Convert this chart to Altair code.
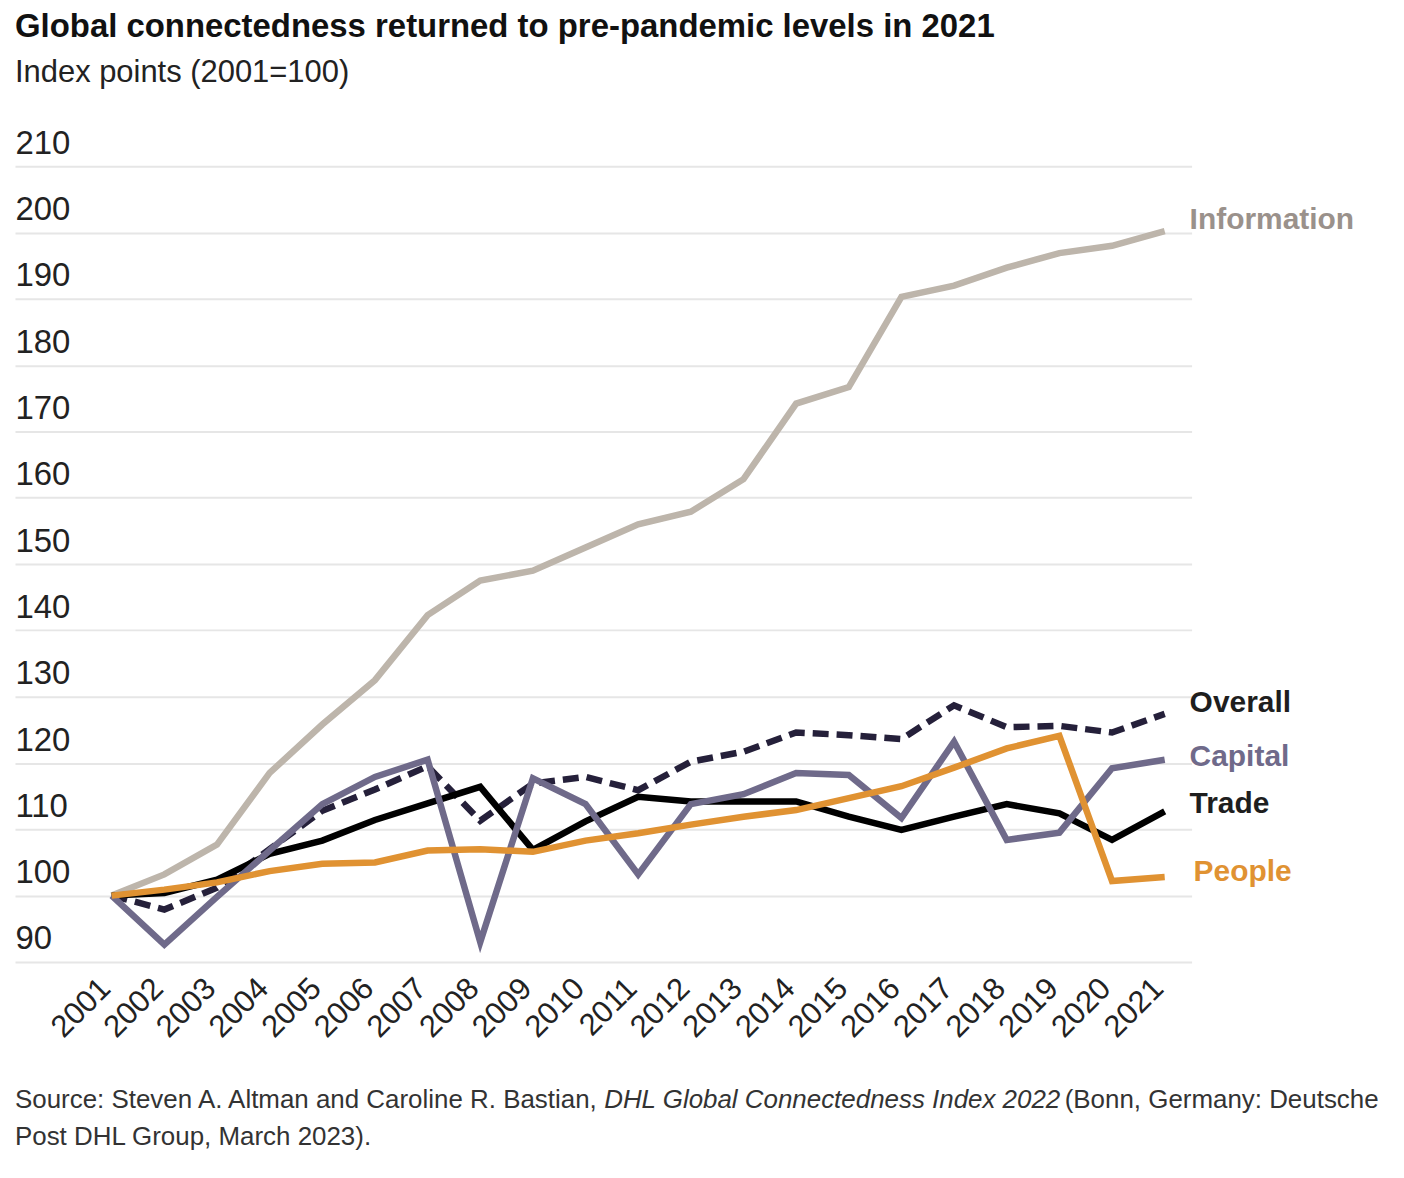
import altair as alt
import pandas as pd

# ---------------- data ----------------
years = list(range(2001, 2022))
information = [100, 103.2, 107.7, 118.5, 125.8, 132.5, 142.3, 147.5, 149.0, 152.5, 156.0,
               157.9, 162.8, 174.2, 176.7, 190.3, 192.0, 194.7, 196.9, 198.0, 200.2]
overall = [100, 97.9, 101.2, 107.0, 112.8, 116.0, 119.5, 111.3, 116.9, 117.9, 115.9,
           120.2, 121.7, 124.6, 124.2, 123.6, 128.7, 125.4, 125.6, 124.6, 127.4]
trade = [100, 100.4, 102.4, 106.3, 108.3, 111.4, 113.9, 116.4, 106.9, 111.2, 114.9,
         114.2, 114.2, 114.2, 111.9, 109.9, 111.9, 113.8, 112.4, 108.4, 112.7]
capital = [100, 92.6, 99.8, 106.8, 113.8, 117.9, 120.5, 93.0, 117.7, 113.8, 103.2,
           113.8, 115.3, 118.5, 118.2, 111.7, 123.2, 108.4, 109.5, 119.2, 120.5]
people = [100, 100.9, 102.0, 103.7, 104.8, 105.0, 106.8, 107.0, 106.6, 108.3, 109.4,
          110.7, 111.9, 112.9, 114.7, 116.5, 119.3, 122.2, 124.1, 102.2, 102.8]

series_names = ["Information", "Overall", "Trade", "Capital", "People"]
series_values = [information, overall, trade, capital, people]
y_ticks = list(range(90, 211, 10))

title_text = "Global connectedness returned to pre-pandemic levels in 2021"
subtitle_text = "Index points (2001=100)"
source_seg1 = "Source: Steven A. Altman and Caroline R. Bastian,"
source_seg2 = "DHL Global Connectedness Index 2022"
source_seg3 = "(Bonn, Germany: Deutsche"
source_line2 = "Post DHL Group, March 2023)."

# ---------------- styles ----------------
FONT = "Liberation Sans"
line_colors = {"Information": "#bdb5ab", "Overall": "#25203a", "Trade": "#000000",
               "Capital": "#6f6a8a", "People": "#e09232"}
label_colors = {"Information": "#9a918b", "Overall": "#1e1e1e", "Trade": "#1e1e1e",
                "Capital": "#6f6a8a", "People": "#e09232"}
label_dy = {"Information": -11, "Overall": -11, "Trade": -7, "Capital": -3, "People": -5}
label_dx = {"Information": 25, "Overall": 25, "Trade": 25, "Capital": 25, "People": 29}

rows = []
for name, vals in zip(series_names, series_values):
    for yr, v in zip(years, vals):
        rows.append({"year": yr, "value": v, "series": name})
df = pd.DataFrame(rows)

W, H = 1180, 798

x_enc = alt.X(
    "year:Q",
    scale=alt.Scale(domain=[1999.163, 2021.511], nice=False, zero=False),
    axis=alt.Axis(values=years, format="d", title=None, grid=False, domain=False,
                  ticks=False, labelAngle=-45, labelAlign="right", labelBaseline="alphabetic",
                  labelPadding=28, labelFontSize=31, labelColor="#222222", labelFont=FONT,
                  labelOverlap=False, labelFlush=False),
)
y_enc = alt.Y(
    "value:Q",
    scale=alt.Scale(domain=[90, 210], nice=False, zero=False),
    axis=alt.Axis(values=y_ticks, title=None, grid=True, gridColor="#e6e6e6", gridWidth=2,
                  domain=False, ticks=False, labelAlign="left", labelBaseline="alphabetic",
                  labelPadding=0, labelOffset=-13, labelFontSize=33, labelColor="#222222",
                  labelFont=FONT, labelFlush=False, labelOverlap=False),
)

layers = []
for name in series_names:
    mk = dict(strokeWidth=6.5, color=line_colors[name], strokeJoin="miter", strokeCap="butt")
    if name == "Overall":
        mk["strokeDash"] = [16, 8]
    layers.append(
        alt.Chart(df).transform_filter(alt.datum.series == name)
        .mark_line(**mk).encode(x=x_enc, y=y_enc)
    )

for name, vals in zip(series_names, series_values):
    ldf = pd.DataFrame({"year": [years[-1]], "value": [vals[-1]], "label": [name]})
    layers.append(
        alt.Chart(ldf).mark_text(align="left", baseline="middle", dx=label_dx[name],
                                 dy=label_dy[name], fontSize=30, fontWeight="bold",
                                 font=FONT, color=label_colors[name])
        .encode(x=alt.X("year:Q"), y=alt.Y("value:Q"), text="label:N")
    )

# approximate Arial / Liberation Sans advance widths (1/1000 em) for placing mixed-style text
_w = {' ': 278, '(': 333, ')': 333, ',': 278, '-': 333, '.': 278, ':': 278, '=': 584}
for c in "0123456789":
    _w[c] = 556
_w.update(dict(A=667, B=667, C=722, D=722, E=667, F=611, G=778, H=722, I=278, J=500, K=667,
               L=556, M=833, N=722, O=778, P=667, Q=778, R=722, S=667, T=611, U=722, V=667,
               W=944, X=667, Y=667, Z=611))
_w.update(dict(a=556, b=556, c=500, d=556, e=556, f=278, g=556, h=556, i=222, j=222, k=500,
               l=222, m=833, n=556, o=556, p=556, q=556, r=333, s=500, t=278, u=556, v=500,
               w=722, x=500, y=500, z=500))


def text_w(s, fs):
    return sum(_w.get(c, 556) for c in s) * fs / 1000.0 * 0.988


SRC_FS = 26
src_y1 = 944
src_y2 = 982
space = 278 * SRC_FS / 1000.0
seg_x1 = 0
seg_x2 = seg_x1 + text_w(source_seg1, SRC_FS) + space + 4
seg_x3 = seg_x2 + text_w(source_seg2, SRC_FS) + space + 2

for txt, xx, yy, style in [(source_seg1, seg_x1, src_y1, "normal"),
                           (source_seg2, seg_x2, src_y1, "italic"),
                           (source_seg3, seg_x3, src_y1, "normal"),
                           (source_line2, seg_x1, src_y2, "normal")]:
    sdf = pd.DataFrame({"t": [txt]})
    layers.append(
        alt.Chart(sdf).mark_text(align="left", baseline="alphabetic", fontSize=SRC_FS,
                                 font=FONT, fontStyle=style, color="#333333")
        .encode(x=alt.value(xx), y=alt.value(yy), text="t:N")
    )

chart = alt.layer(*layers).properties(
    width=W, height=H,
    autosize=alt.AutoSizeParams(type="none"),
    padding={"left": 7, "top": 157, "right": 205, "bottom": 205},
    title=alt.TitleParams(text=title_text, subtitle=subtitle_text, anchor="start",
                          frame="group", font=FONT, fontSize=33, fontWeight="bold",
                          color="#111111", subtitleFont=FONT, subtitleFontSize=31,
                          subtitleColor="#222222", subtitlePadding=15, offset=39),
).configure(background="white").configure_view(stroke=None)

chart.save("out.html", embed_options={"renderer": "svg", "actions": False})
